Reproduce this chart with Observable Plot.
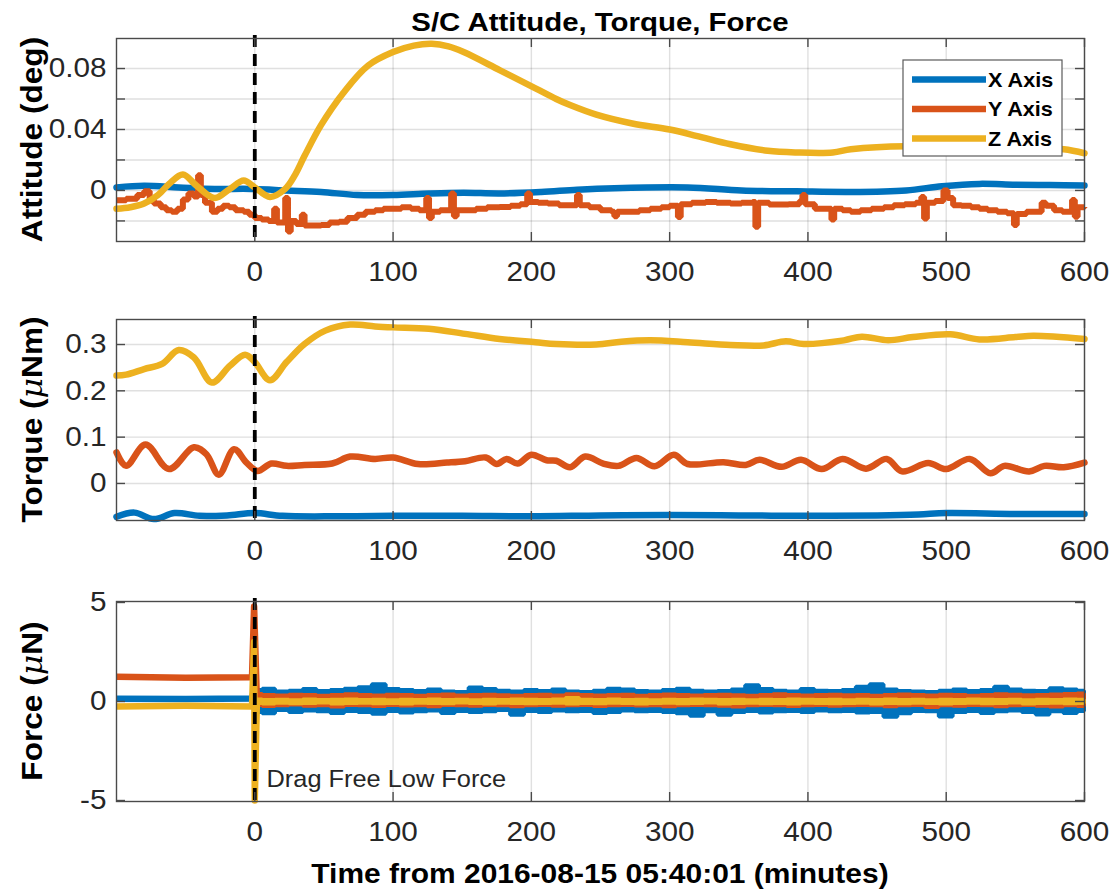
<!DOCTYPE html>
<html>
<head>
<meta charset="utf-8">
<script src="https://cdn.jsdelivr.net/npm/d3@7"></script>
<script src="https://cdn.jsdelivr.net/npm/@observablehq/plot@0.6"></script>
<style>
  body { margin: 0; background: #fff; }
  #fig { position: relative; width: 1113px; height: 890px; overflow: hidden; background: #fff; }
  #fig svg { position: absolute; left: 0; }
</style>
</head>
<body>
<div id="fig"></div>
<script>
// ---- Tick values and labels -------------------------------------------------
const xTicks = [0, 100, 200, 300, 400, 500, 600];
const attitudeTickMarks = [-0.02, 0, 0.02, 0.04, 0.06, 0.08];
const attitudeTickLabels = [0, 0.04, 0.08];
const torqueTicks = [0, 0.1, 0.2, 0.3];
const forceTicks = [-5, 0, 5];

// ---- Attitude (deg): [minutes, value] ---------------------------------------
const attitudeX = [[-100,0.002],[-80,0.003],[-55,0.002],[-29,0.001],[-3,0.001],[23,0],[48,-0.001],
  [74,-0.003],[100,-0.003],[126,-0.002],[151,-0.0015],[177,-0.002],[207,-0.001],[233,0.0005],
  [260,0.0015],[313,0.002],[352,0],[392,-0.0006],[431,-0.001],[471,0],[497,0.0028],[524,0.0043],
  [550,0.0037],[575,0.0035],[600,0.0032]];

const attitudeY = [[-100,-0.0065],[-93,-0.0054],[-85,-0.003],[-80,-0.0006],[-76,-0.006],[-73,-0.0086],
  [-68,-0.011],[-64,-0.013],[-60,-0.014],[-56,-0.012],[-52,-0.006],[-48,-0.002],[-44,-0.004],[-41,0.01],
  [-39,-0.003],[-36,-0.008],[-31,-0.014],[-27,-0.012],[-23,-0.010],[-18.5,-0.011],[-14,-0.013],[-8,-0.014],
  [-4,-0.016],[0,-0.018],[5,-0.019],[10,-0.02],[14,-0.012],[16,-0.021],[22,-0.005],[24,-0.027],[26,-0.02],
  [30,-0.022],[34,-0.016],[36,-0.023],[42,-0.023],[48,-0.0227],[54,-0.021],[61,-0.0205],[67,-0.018],
  [74,-0.016],[80,-0.014],[87,-0.013],[93,-0.012],[100,-0.012],[106,-0.011],[113,-0.012],[119,-0.013],
  [124,-0.005],[126,-0.018],[128,-0.014],[134,-0.013],[140,-0.013],[142,-0.002],[144,-0.017],[146,-0.013],
  [152,-0.013],[160,-0.012],[168,-0.011],[177,-0.0108],[185,-0.01],[192,-0.009],[197,-0.002],[199,-0.0076],
  [205,-0.008],[212,-0.0086],[220,-0.0097],[228,-0.0097],[233,-0.003],[235,-0.0097],[242,-0.011],
  [250,-0.013],[258,-0.014],[260,-0.017],[262,-0.014],[270,-0.014],[278,-0.013],[286,-0.012],[294,-0.011],
  [300,-0.01],[306,-0.0175],[308,-0.009],[316,-0.008],[326,-0.0076],[334,-0.008],[344,-0.0085],[352,-0.008],
  [360,-0.0076],[362,-0.0238],[364,-0.008],[372,-0.0093],[379,-0.0093],[386,-0.009],[394,-0.007],
  [396,-0.003],[398,-0.009],[405,-0.012],[412,-0.012],[417,-0.019],[419,-0.012],[425,-0.013],[431,-0.014],
  [438,-0.013],[446,-0.012],[455,-0.011],[462,-0.0097],[470,-0.009],[478,-0.008],[482,-0.0043],
  [484,-0.0184],[486,-0.008],[492,-0.007],[498,0],[501,-0.005],[505,-0.0097],[511,-0.01],[518,-0.011],
  [524,-0.012],[530,-0.013],[537,-0.014],[544,-0.015],[549,-0.0227],[551,-0.0155],[558,-0.014],
  [564,-0.014],[569,-0.008],[572,-0.01],[578,-0.013],[584,-0.014],[591,-0.0062],[593,-0.0173],
  [595,-0.011],[600,-0.0108]];

const attitudeZ = [[-100,-0.012],[-90,-0.011],[-80,-0.0086],[-70,-0.003],[-62,0.0043],[-52,0.0105],
  [-42,0.003],[-29,-0.005],[-18,0.001],[-8,0.0065],[0,0.002],[11,-0.0043],[22,0.001],[29,0.01],
  [36,0.0227],[48,0.043],[64,0.064],[82,0.082],[100,0.0908],[115,0.095],[128,0.0962],[140,0.0945],
  [151,0.0908],[177,0.079],[203,0.067],[218,0.06],[228,0.056],[247,0.0497],[273,0.0439],[300,0.04],
  [320,0.0357],[344,0.0303],[371,0.026],[392,0.0249],[418,0.0249],[431,0.027],[471,0.029],[500,0.028],
  [524,0.0285],[560,0.028],[585,0.027],[600,0.0244]];

// ---- Torque (uNm): [minutes, value] -----------------------------------------
const torqueX = [[-100,-0.072],[-87,-0.063],[-73,-0.077],[-58,-0.064],[-40,-0.07],[-20,-0.069],[0,-0.064],
  [20,-0.07],[60,-0.071],[100,-0.07],[150,-0.07],[200,-0.071],[250,-0.069],[300,-0.068],[350,-0.069],
  [400,-0.07],[450,-0.069],[480,-0.067],[500,-0.064],[550,-0.066],[600,-0.066]];

const torqueY = [[-100,0.067],[-93,0.038],[-79,0.084],[-62,0.031],[-44,0.078],[-35,0.063],[-26,0.019],
  [-15,0.074],[-6,0.045],[2,0.027],[12,0.043],[23,0.038],[36,0.04],[56,0.043],[69,0.058],[87,0.053],
  [100,0.056],[118,0.042],[139,0.045],[152,0.048],[167,0.056],[175,0.042],[182,0.053],[190,0.043],
  [200,0.062],[211,0.05],[218,0.049],[228,0.035],[239,0.058],[252,0.043],[263,0.038],[276,0.055],
  [289,0.037],[303,0.062],[313,0.042],[339,0.046],[355,0.04],[365,0.051],[381,0.036],[395,0.051],
  [410,0.031],[425,0.053],[442,0.032],[457,0.053],[468,0.026],[487,0.044],[500,0.031],[517,0.053],
  [532,0.022],[542,0.038],[560,0.026],[571,0.038],[585,0.035],[600,0.045]];

const torqueZ = [[-100,0.233],[-93,0.235],[-80,0.247],[-67,0.258],[-55,0.288],[-44,0.272],[-31,0.218],
  [-18,0.254],[-7,0.278],[0,0.262],[11,0.223],[23,0.262],[36,0.301],[51,0.33],[69,0.343],[87,0.339],
  [100,0.337],[126,0.334],[152,0.323],[177,0.312],[203,0.305],[218,0.301],[247,0.30],[265,0.306],
  [286,0.309],[313,0.305],[344,0.299],[368,0.298],[384,0.307],[397,0.301],[426,0.309],[439,0.317],
  [458,0.309],[476,0.316],[503,0.322],[524,0.311],[550,0.316],[563,0.319],[600,0.312]];

// ---- Force (uN): steady values before the switch, then the transient ---------
const forceXBefore = [[-100,0.14],[-50,0.12],[-2,0.15],[-1,0.45],[1,0.1]];
const forceYBefore = [[-100,1.25],[-50,1.2],[-2,1.23],[-0.5,4.8],[1.5,0.1]];
const forceZBefore = [[-100,-0.25],[-50,-0.22],[-2,-0.25],[-0.5,3.0],[0,-5],[1.5,-0.05]];

// Force in drag-free mode: min/max envelope in 10-minute bins, t = 0..600
const forceBins = d3.range(0, 601, 10);
const forceXHigh = [0.55,0.62,0.48,0.52,0.60,0.50,0.55,0.62,0.70,0.85,0.60,0.55,0.50,0.58,0.48,0.45,
  0.68,0.60,0.52,0.48,0.55,0.50,0.58,0.48,0.45,0.52,0.62,0.58,0.50,0.48,0.55,0.62,0.52,0.48,0.50,0.58,
  0.80,0.60,0.52,0.48,0.60,0.52,0.50,0.55,0.72,0.85,0.58,0.50,0.48,0.45,0.52,0.58,0.50,0.55,0.72,0.58,
  0.52,0.50,0.65,0.58,0.52];
const forceXLow = [-0.55,-0.62,-0.45,-0.55,-0.48,-0.52,-0.60,-0.50,-0.55,-0.65,-0.50,-0.58,-0.52,-0.48,
  -0.60,-0.50,-0.55,-0.52,-0.45,-0.70,-0.50,-0.55,-0.48,-0.52,-0.50,-0.60,-0.55,-0.48,-0.52,-0.50,-0.55,
  -0.62,-0.75,-0.52,-0.70,-0.55,-0.50,-0.58,-0.52,-0.50,-0.55,-0.48,-0.52,-0.50,-0.58,-0.55,-0.80,-0.62,
  -0.50,-0.52,-0.78,-0.55,-0.50,-0.60,-0.52,-0.48,-0.55,-0.68,-0.52,-0.60,-0.50];
const forceYHigh = [0.35,0.30,0.28,0.32,0.30,0.26,0.30,0.34,0.30,0.28,0.32,0.30,0.27,0.30,0.33,0.28,
  0.30,0.32,0.29,0.26,0.30,0.32,0.28,0.34,0.30,0.28,0.30,0.32,0.27,0.30,0.33,0.30,0.28,0.30,0.32,0.29,
  0.27,0.30,0.34,0.30,0.28,0.30,0.32,0.29,0.30,0.27,0.30,0.33,0.30,0.28,0.32,0.30,0.27,0.30,0.34,0.31,
  0.29,0.30,0.33,0.35,0.38];
const forceYLow = [-0.20,-0.25,-0.22,-0.18,-0.24,-0.22,-0.28,-0.20,-0.22,-0.25,-0.20,-0.23,-0.22,-0.26,
  -0.20,-0.22,-0.24,-0.20,-0.22,-0.27,-0.22,-0.20,-0.24,-0.22,-0.20,-0.25,-0.22,-0.20,-0.23,-0.22,-0.26,
  -0.22,-0.20,-0.22,-0.24,-0.28,-0.22,-0.20,-0.22,-0.25,-0.22,-0.20,-0.24,-0.22,-0.20,-0.22,-0.26,-0.22,
  -0.20,-0.30,-0.22,-0.24,-0.20,-0.22,-0.26,-0.22,-0.20,-0.24,-0.28,-0.22,-0.25];
const forceZHigh = [0.08,0.05,0.06,0.04,0.07,0.05,0.06,0.08,0.05,0.06,0.04,0.06,0.05,0.07,0.05,0.06,
  0.04,0.06,0.05,0.07,0.06,0.05,0.08,0.15,0.06,0.05,0.07,0.05,0.06,0.04,0.06,0.05,0.07,0.06,0.05,0.06,
  0.04,0.06,0.05,0.07,0.06,0.05,0.06,0.04,0.06,0.05,0.07,0.05,0.06,0.04,0.06,0.05,0.07,0.06,0.05,0.06,
  0.04,0.06,0.05,0.07,0.06];
const forceZLow = [-0.10,-0.12,-0.09,-0.11,-0.10,-0.08,-0.12,-0.10,-0.09,-0.11,-0.10,-0.12,-0.09,-0.10,
  -0.11,-0.08,-0.10,-0.12,-0.09,-0.10,-0.11,-0.10,-0.09,-0.12,-0.10,-0.11,-0.09,-0.10,-0.12,-0.10,-0.09,
  -0.11,-0.10,-0.08,-0.12,-0.10,-0.09,-0.11,-0.10,-0.12,-0.09,-0.10,-0.11,-0.10,-0.09,-0.12,-0.10,-0.11,
  -0.09,-0.10,-0.12,-0.10,-0.09,-0.11,-0.10,-0.08,-0.12,-0.10,-0.09,-0.11,-0.10];

const annotations = [{t: 8.5, v: -3.95, text: "Drag Free Low Force"}];
const legendLabels = ["X Axis", "Y Axis", "Z Axis"];

// ---- Styling ----------------------------------------------------------------
const COLORS = {X: "#0072BD", Y: "#D95319", Z: "#EDB120"};
const FONT = "'Liberation Sans', Arial, Helvetica, sans-serif";
const TICK_STRETCH = 1.08;     // horizontal widening of tick lettering
const LABEL_STRETCH = 1.11;    // horizontal widening of titles and labels
const W = 1113, H = 890;
const ML = 116, MR = 29, MT = 6, MB = 52;
const PW = W - ML - MR;
const FRAME = "#4a4a4a";
const LW = 6.5;

const fig = document.getElementById("fig");

// Widen each text element along its baseline, keeping its anchor in place.
function widenText(svg, s) {
  svg.querySelectorAll("text").forEach(t => {
    const tr = t.getAttribute("transform") || "";
    t.setAttribute("transform", `${tr} scale(${s},1)`);
  });
}

function panel({frameTop, frameHeight, yDomain, tickMarks, tickLabels, gridMarks, marks}) {
  const svg = Plot.plot({
    width: W,
    height: MT + frameHeight + MB,
    marginLeft: ML, marginRight: MR, marginTop: MT, marginBottom: MB,
    x: {domain: [-100, 600]},
    y: {domain: yDomain},
    style: {fontFamily: FONT, fontSize: "27.5px", color: "#262626", background: "transparent", overflow: "visible"},
    marks: [
      Plot.gridX(xTicks, {stroke: "#262626", strokeOpacity: 0.14, strokeWidth: 1.4}),
      Plot.gridY(gridMarks, {stroke: "#262626", strokeOpacity: 0.14, strokeWidth: 1.4}),
      ...marks,
      Plot.ruleX([0], {stroke: "#000", strokeWidth: 3.8, strokeDasharray: "12,7", insetTop: -3, insetBottom: -3}),
      Plot.frame({stroke: FRAME, strokeWidth: 1.4}),
      Plot.tickX(xTicks, {x: d => d, stroke: FRAME, strokeWidth: 1.4, insetTop: frameHeight - 9}),
      Plot.tickX(xTicks, {x: d => d, stroke: FRAME, strokeWidth: 1.4, insetBottom: frameHeight - 9}),
      Plot.tickY(tickMarks, {y: d => d, stroke: FRAME, strokeWidth: 1.4, insetRight: PW - 9}),
      Plot.tickY(tickMarks, {y: d => d, stroke: FRAME, strokeWidth: 1.4, insetLeft: PW - 9}),
      Plot.axisX(xTicks, {anchor: "bottom", tickSize: 0, tickPadding: 20, tickFormat: d => String(d), label: null, fill: "#262626"}),
      Plot.axisY(tickLabels, {anchor: "left", tickSize: 0, tickPadding: 10, tickFormat: d => String(d), label: null, fill: "#262626"})
    ]
  });
  svg.style.top = (frameTop - MT) + "px";
  widenText(svg, TICK_STRETCH);
  fig.appendChild(svg);
}

const line = (data, key, extra = {}) =>
  Plot.line(data, {x: d => d[0], y: d => d[1], stroke: COLORS[key], strokeWidth: LW, ...extra});

// Attitude
panel({
  frameTop: 38, frameHeight: 203,
  yDomain: [-0.0335, 0.0997],
  tickMarks: attitudeTickMarks, tickLabels: attitudeTickLabels, gridMarks: attitudeTickMarks,
  marks: [
    line(attitudeX, "X", {curve: "catmull-rom"}),
    line(attitudeY, "Y", {curve: "step-after", strokeLinejoin: "miter", strokeLinecap: "butt", strokeWidth: 6}),
    line(attitudeZ, "Z", {curve: "catmull-rom"})
  ]
});

// Torque
panel({
  frameTop: 319, frameHeight: 201,
  yDomain: [-0.08, 0.354],
  tickMarks: torqueTicks, tickLabels: torqueTicks, gridMarks: torqueTicks,
  marks: [
    line(torqueX, "X", {curve: "catmull-rom"}),
    line(torqueY, "Y", {curve: "catmull-rom"}),
    line(torqueZ, "Z", {curve: "catmull-rom"})
  ]
});

// Force
const band = (hi, lo) => forceBins.map((t, i) => ({t: Math.max(t, 1.5), hi: hi[i], lo: lo[i]}));
const area = (data, key) => Plot.areaY(data, {
  x: "t", y1: "lo", y2: "hi", curve: "step", fill: COLORS[key],
  stroke: COLORS[key], strokeWidth: 4, strokeLinejoin: "miter"
});
panel({
  frameTop: 601, frameHeight: 200,
  yDomain: [-5.05, 5.05],
  tickMarks: forceTicks, tickLabels: forceTicks, gridMarks: [0],
  marks: [
    line(forceXBefore, "X", {strokeLinecap: "butt"}),
    area(band(forceXHigh, forceXLow), "X"),
    line(forceYBefore, "Y", {strokeLinecap: "butt"}),
    area(band(forceYHigh, forceYLow), "Y"),
    line(forceZBefore, "Z", {strokeLinecap: "butt"}),
    area(band(forceZHigh, forceZLow), "Z"),
    Plot.text(annotations, {x: "t", y: "v", text: "text", textAnchor: "start", fontSize: 23.5, fill: "#262626"})
  ]
});

// ---- Titles, axis labels and legend -----------------------------------------
const ov = d3.create("svg")
  .attr("width", W).attr("height", H)
  .style("top", "0px")
  .attr("font-family", FONT)
  .attr("fill", "#000");

function label(x, y, size, rotate, stretch = LABEL_STRETCH) {
  return ov.append("text")
    .attr("transform", `translate(${x},${y})${rotate ? " rotate(-90)" : ""} scale(${stretch},1)`)
    .attr("text-anchor", "middle")
    .attr("font-size", size)
    .attr("font-weight", "bold");
}

label(600, 31, 26.5).text("S/C Attitude, Torque, Force");
label(600, 883, 27).text("Time from 2016-08-15 05:40:01 (minutes)");
label(42, 139.5, 29, true, 1.09).text("Attitude (deg)");
const tq = label(42, 419.5, 29, true, 1.09);
tq.append("tspan").text("Torque (");
tq.append("tspan").attr("font-style", "italic").attr("font-weight", "normal")
  .attr("font-family", "'DejaVu Serif', serif").text("\u03bc");
tq.append("tspan").text("Nm)");
const fc = label(42, 701, 29, true, 1.09);
fc.append("tspan").text("Force (");
fc.append("tspan").attr("font-style", "italic").attr("font-weight", "normal")
  .attr("font-family", "'DejaVu Serif', serif").text("\u03bc");
fc.append("tspan").text("N)");

const lg = ov.append("g");
lg.append("rect").attr("x", 903).attr("y", 60).attr("width", 159).attr("height", 96)
  .attr("fill", "#fff").attr("stroke", "#5a5a5a").attr("stroke-width", 1.2);
legendLabels.forEach((name, i) => {
  const key = name[0];
  const y = 79.5 + i * 29.5;
  lg.append("line").attr("x1", 912).attr("x2", 986).attr("y1", y).attr("y2", y)
    .attr("stroke", COLORS[key]).attr("stroke-width", LW);
  lg.append("text")
    .attr("transform", `translate(988,${y + 7}) scale(1.08,1)`)
    .attr("font-size", 20).attr("font-weight", "bold").text(name);
});

fig.appendChild(ov.node());
</script>
</body>
</html>
